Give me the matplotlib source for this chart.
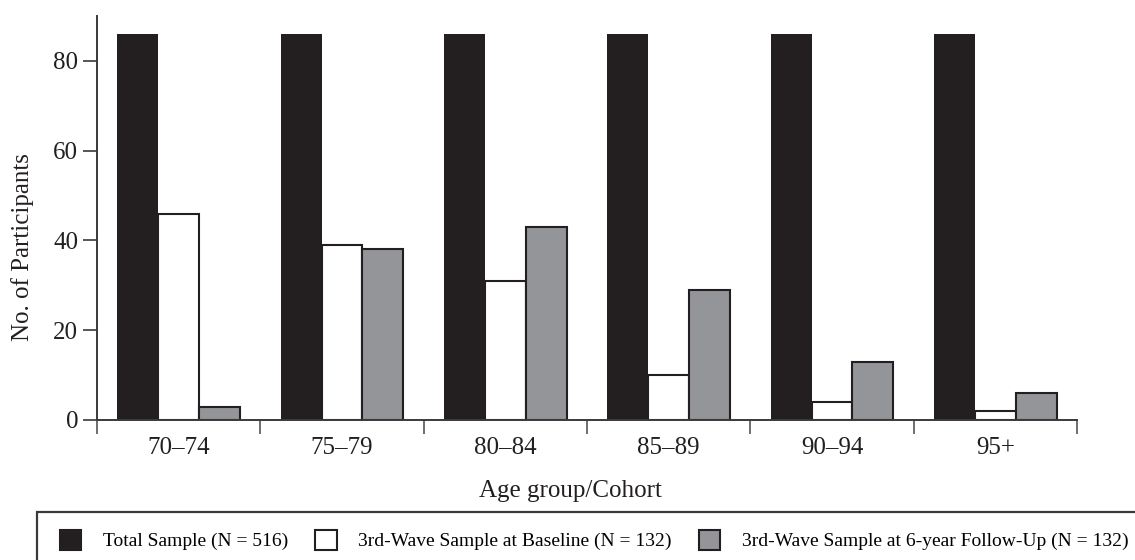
import matplotlib
matplotlib.use("Agg")
import matplotlib.pyplot as plt
from matplotlib.patches import Patch, Rectangle
import numpy as np

# Data
age_groups = ["70\u201374", "75\u201379", "80\u201384", "85\u201389", "90\u201394", "95+"]
total_sample = [86, 86, 86, 86, 86, 86]
baseline = [46, 39, 31, 10, 4, 2]
follow_up = [3, 38, 43, 29, 13, 6]
legend_labels = ["Total Sample (N = 516)",
                 "3rd-Wave Sample at Baseline (N = 132)",
                 "3rd-Wave Sample at 6-year Follow-Up (N = 132)"]

BLACK = "#231f20"
GRAY = "#939598"
EDGE = "#231f20"

plt.rcParams["font.family"] = ["Liberation Serif", "DejaVu Serif"]

fig = plt.figure(figsize=(11.35, 5.6), dpi=100)
ax = fig.add_axes([97 / 1135, 1 - 420 / 560, 980 / 1135, 404 / 560])

x = np.arange(len(age_groups))
w = 0.25
ax.bar(x - w, total_sample, w, color=BLACK, edgecolor=BLACK, linewidth=0)
ax.bar(x, baseline, w, color="white", edgecolor=EDGE, linewidth=1.5)
ax.bar(x + w, follow_up, w, color=GRAY, edgecolor=EDGE, linewidth=1.5)

ax.set_xlim(-0.5, len(age_groups) - 0.5)
ax.set_ylim(0, 90)

for side in ("top", "right"):
    ax.spines[side].set_visible(False)
for side in ("left", "bottom"):
    ax.spines[side].set_color("#3a3a3a")
    ax.spines[side].set_linewidth(1.4)

ax.set_yticks([0, 20, 40, 60, 80])
ax.tick_params(axis="y", direction="out", length=10, width=1.2, color="#3a3a3a",
               labelsize=18, pad=3.5, labelcolor=BLACK)
ax.set_xticks(x)
ax.set_xticklabels(age_groups)
ax.set_xticks(np.arange(-0.5, len(age_groups)), minor=True)
ax.tick_params(axis="x", which="major", length=0, labelsize=18, pad=12, labelcolor=BLACK)
ax.tick_params(axis="x", which="minor", direction="out", length=10, width=1.2, color="#555555")

ax.set_ylabel("No. of Participants", fontsize=18, color=BLACK)
ax.yaxis.label.set_va("center")
ax.yaxis.set_label_coords(-0.0765, 0.428)
ax.set_xlabel("Age group/Cohort", fontsize=18, color=BLACK)
ax.xaxis.label.set_va("center")
ax.xaxis.set_label_coords(0.483, -0.176)

# legend box, running off the right and bottom edges like the reference
frame = Rectangle((37 / 1135, -0.2), 1.2, 1.2 - 512 / 560, transform=fig.transFigure,
                  fill=False, edgecolor="#3a3a3a", linewidth=1.6)
fig.add_artist(frame)

handles = [Patch(facecolor=BLACK, edgecolor=BLACK, linewidth=1.5),
           Patch(facecolor="white", edgecolor=EDGE, linewidth=1.5),
           Patch(facecolor=GRAY, edgecolor=EDGE, linewidth=1.5)]
fig.legend(handles, legend_labels, ncol=3, frameon=False, fontsize=14,
           loc="center left", bbox_to_anchor=(60 / 1135, 1 - 540 / 560),
           borderpad=0, borderaxespad=0, handlelength=1.1, handleheight=1.2,
           handletextpad=1.1, columnspacing=1.4)

fig.savefig("out.png", dpi=100)
